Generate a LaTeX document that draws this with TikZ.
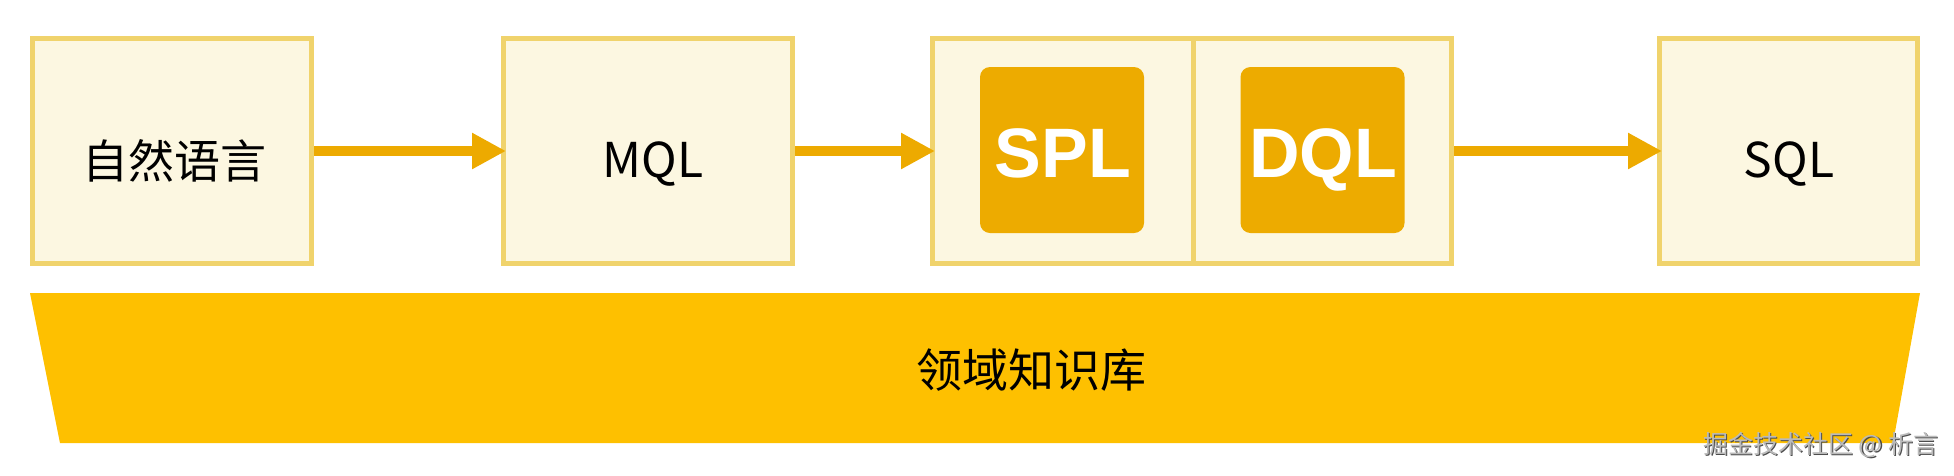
\documentclass[tikz,border=0pt]{standalone}
\usepackage{fontspec}
\usetikzlibrary{arrows.meta}
\newfontfamily\cjk{Noto Sans CJK SC}
\newfontfamily\latb{Liberation Sans}
\definecolor{boxfill}{HTML}{FCF7E1}
\definecolor{boxline}{HTML}{F0D36C}
\definecolor{arrcol}{HTML}{EDAA00}
\definecolor{innerfill}{HTML}{EDAB00}
\definecolor{trapfill}{HTML}{FEC000}
\definecolor{wmgray}{HTML}{8C8C8C}
\begin{document}
\begin{tikzpicture}[x=1pt,y=-1pt,
  stagebox/.style={draw=boxline,fill=boxfill,line width=5pt,minimum height=225pt,inner sep=0pt},
  innerbox/.style={fill=innerfill,rounded corners=10pt,minimum width=164pt,minimum height=166pt,inner sep=0pt},
  lbl/.style={font=\cjk\fontsize{46}{46}\selectfont,anchor=base,inner sep=0pt},
  latlbl/.style={font=\cjk\fontsize{48}{48}\selectfont,anchor=base,inner sep=0pt},
  biglbl/.style={font=\latb\bfseries\fontsize{70}{70}\selectfont,text=white,anchor=base,inner sep=0pt},
  wmtext/.style={font=\cjk\fontsize{25}{25}\selectfont,anchor=base west,inner sep=0pt},
  arr/.style={draw=arrcol,line width=10pt,-{Triangle[length=34pt,width=34pt]},shorten >=-5pt}
]
\useasboundingbox (0,0) rectangle (1954,475);
% stage boxes
\node[stagebox,minimum width=279pt] (b1) at (172,151) {};
\node[stagebox,minimum width=289pt] (b2) at (648,151) {};
\node[stagebox,minimum width=519pt] (b3) at (1192,151) {};
\node[stagebox,minimum width=258pt] (b4) at (1788.5,151) {};
\draw[boxline,line width=5pt] (b3.north) ++(1,0) coordinate (dtop) -- (dtop |- b3.south);
% inner tiles
\node[innerbox] (spl) at (1062,150) {};
\node[innerbox] (dql) at (1322.5,150) {};
% labels
\node[lbl] (t1) at (174,178) {自然语言};
\node[latlbl] (t2) at (653,177) {MQL};
\node[latlbl] (t4) at (1789,177) {SQL};
\node[biglbl] (t3a) at (1063,177) {SPL};
\node[biglbl] (t3b) at (1323,177) {DQL};
% arrows
\draw[arr] (b1.east) -- (b2.west);
\draw[arr] (b2.east) -- (b3.west);
\draw[arr] (b3.east) -- (b4.west);
% knowledge base band
\fill[trapfill] (30,293) -- (1920,293) -- (1893,443) -- (60,443) -- cycle;
\node[lbl] (kb) at (1031,387) {领域知识库};
% watermark
\node[wmtext,text=black!70] (wmshadow) at (1704.5,454.5) {掘金技术社区 @ 析言};
\node[wmtext,text=wmgray!60] (wm) at (1703,453) {掘金技术社区 @ 析言};
\end{tikzpicture}
\end{document}
